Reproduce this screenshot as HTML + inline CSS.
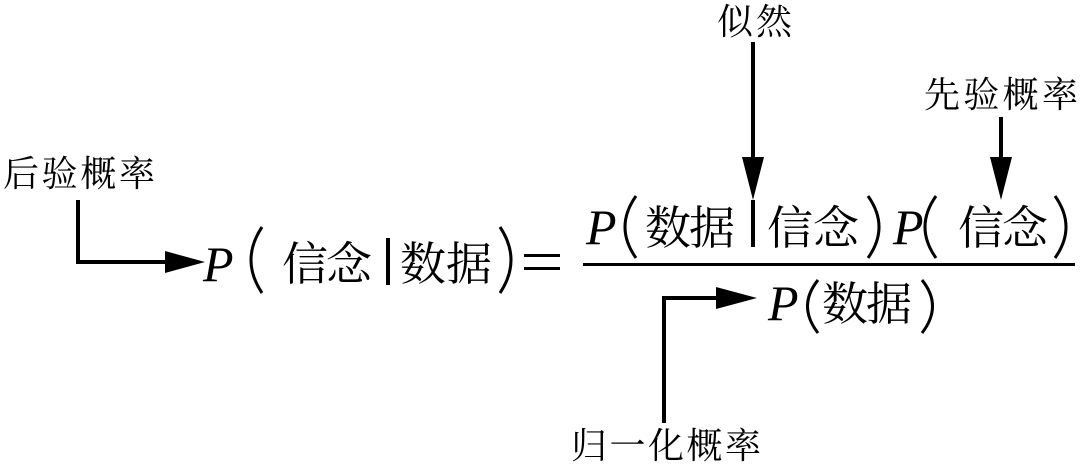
<!DOCTYPE html>
<html><head><meta charset="utf-8"><style>
html,body{margin:0;padding:0;background:#fff;}
svg{display:block;}
text{font-family:"Liberation Serif","Noto Serif CJK SC",serif;fill:#000;}
.l{font-size:36px;}
.c{font-size:46px;}
.p{font-size:50px;font-style:italic;}
</style></head><body>
<svg width="1080" height="466" viewBox="0 0 1080 466" xmlns="http://www.w3.org/2000/svg">
<text class="l" x="3" y="186" textLength="152">后验概率</text>
<text class="l" x="717" y="34" textLength="75">似然</text>
<text class="l" x="924" y="107" textLength="154">先验概率</text>
<text class="l" x="571" y="458" textLength="190">归一化概率</text>

<g stroke="#000" stroke-width="4" fill="none">
<polyline points="78,200 78,262 168,262"/>
<line x1="753" y1="42" x2="753" y2="165"/>
<line x1="1001" y1="117" x2="1001" y2="165"/>
<polyline points="664,423 664,298 722,298"/>
</g>
<g fill="#000">
<polygon points="165,251 205,262 165,273"/>
<polygon points="742,157 764,157 753,200"/>
<polygon points="990,157 1012,157 1001,200"/>
<polygon points="716,287 757,298 716,309"/>
</g>

<g stroke="#000" stroke-width="3" fill="none">
<path d="M262,227 Q240,260 262,293"/>
<path d="M500,227 Q522,260 500,293"/>
<path d="M636,196 Q614,227 636,258"/>
<path d="M868,196 Q890,227 868,258"/>
<path d="M936,196 Q914,227 936,258"/>
<path d="M1055,196 Q1077,227 1055,258"/>
<path d="M818,280 Q797,306 818,333"/>
<path d="M922,280 Q943,306 922,333"/>
</g>

<!-- left side -->
<text class="p" x="203" y="281">P</text>
<text class="c" x="282" y="280" textLength="90">信念</text>
<rect x="386" y="238" width="4" height="47"/>
<text class="c" x="400" y="280" textLength="92">数据</text>
<rect x="524" y="254" width="36" height="3"/>
<rect x="524" y="267" width="36" height="3"/>

<!-- numerator -->
<text class="p" x="586" y="244">P</text>
<text class="c" x="645" y="244" textLength="90">数据</text>
<rect x="751" y="200" width="4" height="47"/>
<text class="c" x="767" y="244" textLength="92">信念</text>
<text class="p" x="893" y="244">P</text>
<text class="c" x="958" y="244" textLength="90">信念</text>
<rect x="583" y="263" width="492" height="3"/>

<!-- denominator -->
<text class="p" x="768" y="320">P</text>
<text class="c" x="822" y="320" textLength="90">数据</text>
</svg>
</body></html>
